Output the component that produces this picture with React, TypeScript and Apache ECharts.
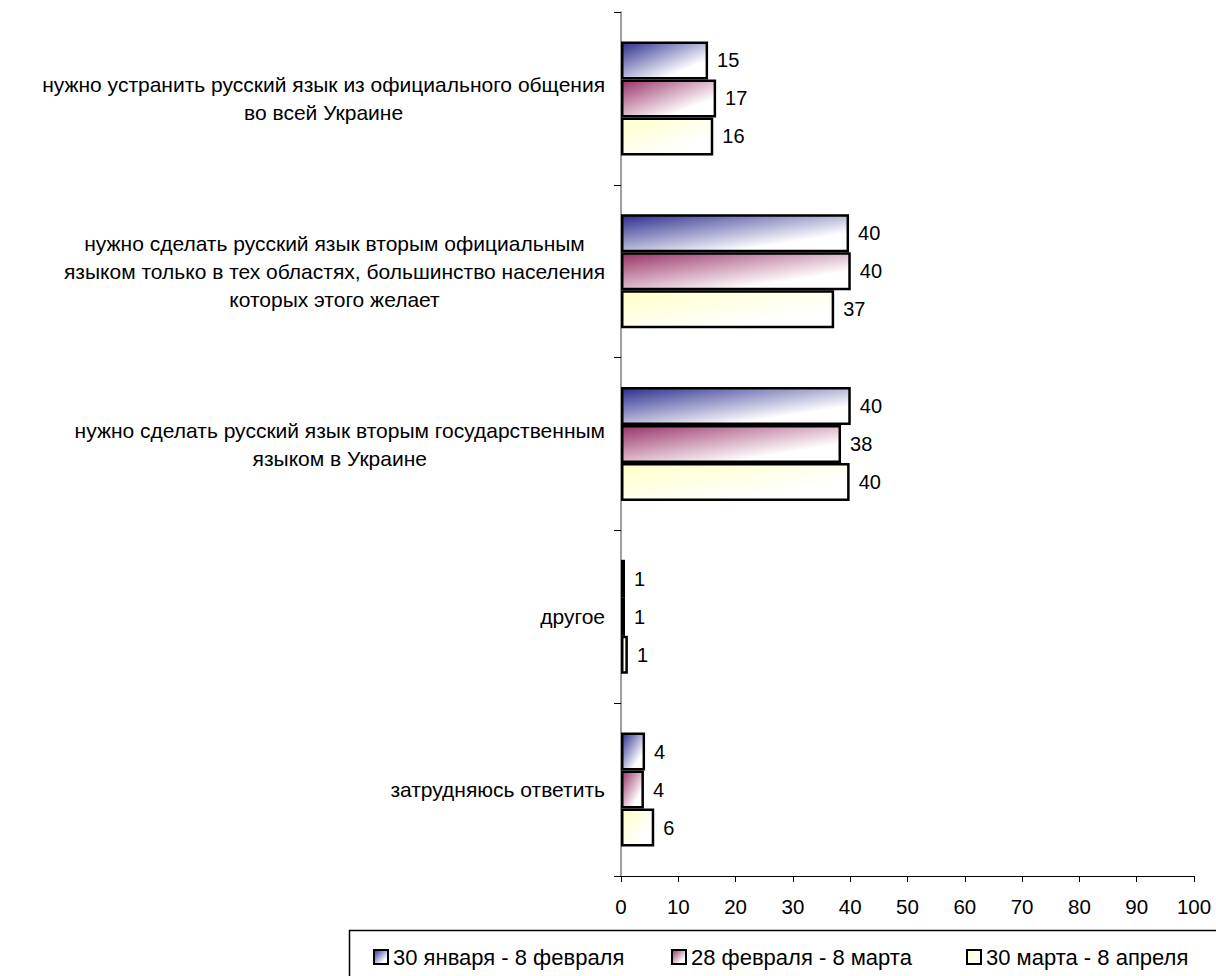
import React, { useEffect, useRef } from "react";
import * as echarts from "echarts";

const categories = [
  "нужно устранить русский язык из официального общения\nво всей Украине",
  "нужно сделать русский язык вторым официальным\nязыком только в тех областях, большинство населения\nкоторых этого желает",
  "нужно сделать русский язык вторым государственным\nязыком в Украине",
  "другое",
  "затрудняюсь ответить",
];

const seriesNames = ["30 января - 8 февраля", "28 февраля - 8 марта", "30 марта - 8 апреля"];
const janFeb = [15.2, 39.8, 40.1, 0.7, 4.2];
const febMar = [16.6, 40.1, 38.4, 0.7, 4.0];
const marApr = [16.1, 37.2, 39.9, 1.2, 5.8];
const xTicks = { min: 0, max: 100, interval: 10 };

const FONT = "Arial, 'Liberation Sans', sans-serif";
const startColors = ["#2e2e8f", "#993366", "#ffffc8"];

function grad(c: string) {
  return new echarts.graphic.LinearGradient(0, 0, 1, 1, [
    { offset: 0, color: c },
    { offset: 0.75, color: "#ffffff" },
    { offset: 1, color: "#ffffff" },
  ]);
}

export default function App() {
  const ref = useRef<HTMLDivElement>(null);
  useEffect(() => {
    if (!ref.current) return;
    const chart = echarts.init(ref.current, null, { renderer: "svg" });
    const datas = [janFeb, febMar, marApr];
    const series = datas.map((d, i) => ({
      type: "bar",
      name: seriesNames[i],
      data: d,
      barWidth: 38,
      barGap: "0%",
      itemStyle: { color: grad(startColors[i]), borderColor: "#000", borderWidth: 2.5 },
      label: {
        show: true,
        position: "right",
        distance: 9,
        color: "#000",
        fontSize: 20,
        fontFamily: FONT,
        formatter: (p: any) => String(Math.round(p.value)),
      },
    }));
    const legendLefts = [373, 671, 966];
    chart.setOption({
      animation: false,
      backgroundColor: "#ffffff",
      grid: { left: 621, right: 22, top: 12, bottom: 100, containLabel: false },
      xAxis: {
        type: "value",
        min: xTicks.min,
        max: xTicks.max,
        interval: xTicks.interval,
        splitLine: { show: false },
        axisLine: { show: true, lineStyle: { color: "#000", width: 1 } },
        axisTick: { show: true, length: 6, lineStyle: { color: "#000" } },
        axisLabel: { color: "#000", fontSize: 20.5, fontFamily: FONT, margin: 20 },
      },
      yAxis: {
        type: "category",
        inverse: true,
        data: categories,
        axisLine: { show: true, lineStyle: { color: "#808080", width: 1.5 } },
        axisTick: { show: true, length: 7, lineStyle: { color: "#000" } },
        axisLabel: {
          color: "#000",
          fontSize: 21,
          fontFamily: FONT,
          margin: 16,
          align: "right",
          lineHeight: 28,
          formatter: (v: string) => v.split("\n").map((l) => `{c|${l}}`).join("\n"),
          rich: { c: { align: "center", fontSize: 21, fontFamily: FONT, lineHeight: 28, color: "#000" } },
        },
      },
      legend: seriesNames.map((n, i) => ({
        data: [n],
        left: legendLefts[i],
        top: 946,
        padding: 0,
        itemWidth: 14,
        itemHeight: 14,
        icon: "rect",
        textStyle: { color: "#000", fontSize: 22, fontFamily: FONT },
        selectedMode: false,
      })),
      graphic: [
        {
          type: "rect",
          left: 347,
          top: 928,
          shape: { width: 900, height: 100 },
          style: { fill: "none", stroke: "#000", lineWidth: 1.5 },
        },
      ],
      series,
    });
    return () => chart.dispose();
  }, []);
  return <div ref={ref} style={{ position: "fixed", left: 0, top: 0, width: 1216, height: 976 }} />;
}
